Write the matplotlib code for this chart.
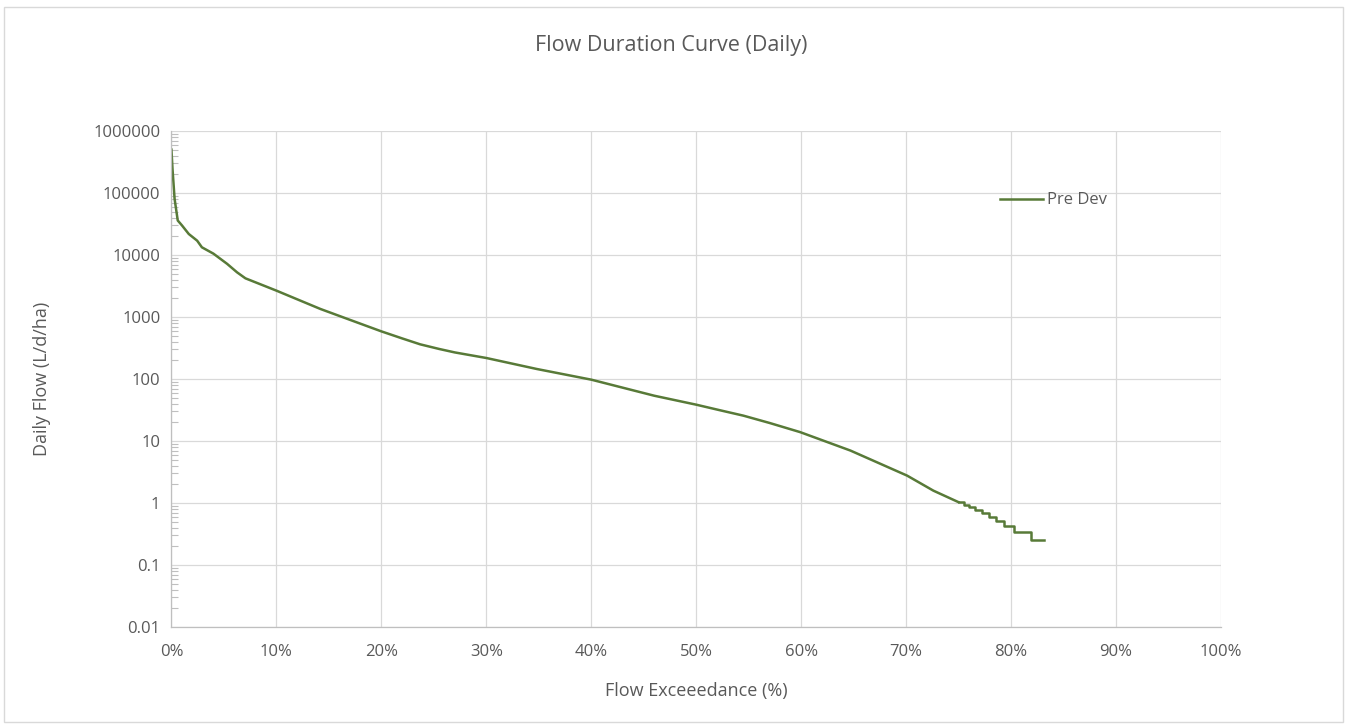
import numpy as np
import matplotlib
matplotlib.use("Agg")
import matplotlib.pyplot as plt
from matplotlib.ticker import FixedLocator, FuncFormatter, NullFormatter
from matplotlib.patches import Rectangle

plt.rcParams['font.family'] = ['Open Sans', 'DejaVu Sans']

# flow duration data (exceedance as a fraction, flow in L/d/ha)
exceedance = [0.0, 0.0005, 0.001, 0.003, 0.006, 0.010, 0.0165, 0.0245, 0.029, 0.040,
              0.053, 0.0625, 0.0705, 0.100, 0.123, 0.142, 0.170, 0.200, 0.220, 0.237,
              0.255, 0.270, 0.300, 0.348, 0.400, 0.460, 0.500, 0.523, 0.545, 0.570,
              0.599, 0.647, 0.701, 0.726, 0.750]
flow = [500000, 350000, 245000, 80000, 36000, 30000, 21800, 17000, 13300, 10500,
        7200, 5250, 4200, 2660, 1830, 1345, 900, 586, 450, 362,
        305, 268, 218, 145, 97.5, 53.7, 38.5, 31.2, 25.6, 19.5,
        13.9, 7.0, 2.76, 1.58, 1.03]

# low-flow tail is quantised, drawn as steps
tail_exceed = [0.750, 0.755, 0.760, 0.766, 0.772, 0.779, 0.786, 0.793, 0.803, 0.819, 0.831]
tail_flow = [1.029, 0.943, 0.857, 0.771, 0.686, 0.600, 0.514, 0.429, 0.343, 0.257, 0.257]

y_ticks = [0.01, 0.1, 1, 10, 100, 1000, 10000, 100000, 1000000]
x_ticks = np.arange(0, 1.01, 0.1)

line_col = '#587A38'
txt_col = '#595959'
grid_col = '#D9D9D9'

fig = plt.figure(figsize=(13.5, 7.26), dpi=100)
fig.patches.append(Rectangle((0.003, 0.006), 0.992, 0.985, transform=fig.transFigure,
                             fill=False, edgecolor='#D9D9D9', linewidth=1))
ax = fig.add_axes([0.127, 0.1364, 0.7774, 0.6832])

ax.plot(exceedance, flow, color=line_col, linewidth=1.8, label='Pre Dev')
ax.step(tail_exceed, tail_flow, where='post', color=line_col, linewidth=1.8)

ax.set_yscale('log')
ax.set_ylim(0.01, 1000000)
ax.set_xlim(0, 1)
ax.yaxis.set_major_locator(FixedLocator(y_ticks))
ax.yaxis.set_major_formatter(FuncFormatter(lambda v, p: ('%g' % v) if v < 1 else '%d' % round(v)))
ax.yaxis.set_minor_formatter(NullFormatter())
ax.set_xticks(x_ticks)
ax.xaxis.set_major_formatter(FuncFormatter(lambda v, p: '%d%%' % round(v * 100)))

ax.grid(True, which='major', color=grid_col, linewidth=0.9)
ax.set_axisbelow(True)
for s in ['top', 'right']:
    ax.spines[s].set_visible(False)
for s in ['left', 'bottom']:
    ax.spines[s].set_color('#BFBFBF')
    ax.spines[s].set_linewidth(0.9)

ax.tick_params(axis='both', which='major', length=0, labelsize=12, labelcolor=txt_col)
ax.tick_params(axis='x', which='major', pad=12)
ax.tick_params(axis='y', which='major', pad=8)
ax.tick_params(axis='y', which='minor', direction='in', length=5, color='#BFBFBF', width=0.8)
ax.tick_params(axis='x', which='minor', length=0)

ax.set_xlabel('Flow Exceeedance (%)', fontsize=13, color=txt_col)
ax.set_ylabel('Daily Flow (L/d/ha)', fontsize=13, color=txt_col)
ax.xaxis.set_label_coords(0.5, -0.11)
ax.yaxis.set_label_coords(-0.115, 0.5)
fig.text(0.497, 0.937, 'Flow Duration Curve (Daily)', fontsize=15.5, color=txt_col,
         ha='center', va='center')

leg = ax.legend(loc='center left', bbox_to_anchor=(0.775, 0.86), frameon=False,
                fontsize=12, handlelength=2.6, handletextpad=0.25)
for t in leg.get_texts():
    t.set_color(txt_col)

fig.savefig('out.png', dpi=100, facecolor='white')
